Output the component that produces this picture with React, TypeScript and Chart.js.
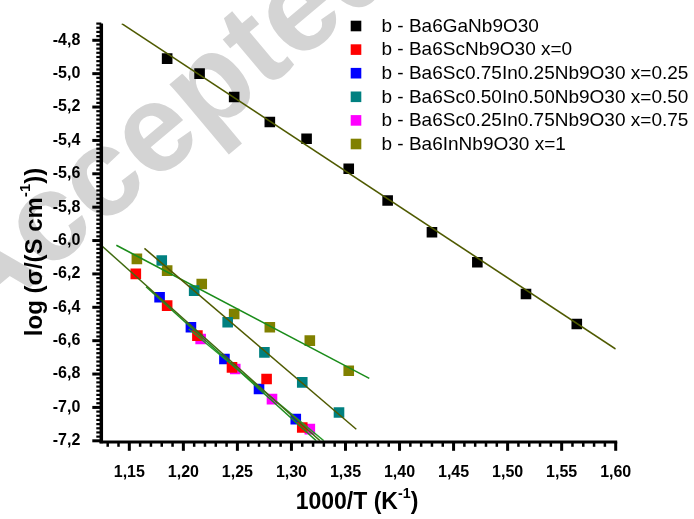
import React, { useEffect, useRef } from 'react';
import { Chart, registerables } from 'chart.js';
Chart.register(...registerables);

// ---- data ----
const seriesNames = [
  'b - Ba6GaNb9O30',
  'b - Ba6ScNb9O30 x=0',
  'b - Ba6Sc0.75In0.25Nb9O30 x=0.25',
  'b - Ba6Sc0.50In0.50Nb9O30 x=0.50',
  'b - Ba6Sc0.25In0.75Nb9O30 x=0.75',
  'b - Ba6InNb9O30 x=1',
];
const seriesColors = ['#000000', '#ff0000', '#0000ff', '#008080', '#ff00ff', '#808000'];
const fitColors = ['#4f5a00', '#3f6a10', '#1f8f1f', '#4f5a00', '#2a9a2a', '#1a8c1a'];

const gaX = [1.185, 1.215, 1.247, 1.280, 1.314, 1.353, 1.389, 1.430, 1.472, 1.517, 1.564];
const gaY = [-4.91, -5.00, -5.14, -5.29, -5.39, -5.57, -5.76, -5.95, -6.13, -6.32, -6.50];
const sc0X = [1.156, 1.185, 1.213, 1.245, 1.277, 1.310];
const sc0Y = [-6.20, -6.39, -6.57, -6.76, -6.83, -7.12];
const x25X = [1.178, 1.207, 1.238, 1.270, 1.304];
const x25Y = [-6.34, -6.52, -6.71, -6.89, -7.07];
const x50X = [1.180, 1.210, 1.241, 1.275, 1.310, 1.344];
const x50Y = [-6.12, -6.30, -6.49, -6.67, -6.85, -7.03];
const x75X = [1.216, 1.248, 1.282, 1.317];
const x75Y = [-6.59, -6.77, -6.95, -7.13];
const in1X = [1.157, 1.185, 1.217, 1.247, 1.280, 1.317, 1.353];
const in1Y = [-6.11, -6.18, -6.26, -6.44, -6.52, -6.60, -6.78];

// linear fit line end points
const fitGaX = [1.143, 1.600];
const fitGaY = [-4.70, -6.65];
const fitSc0X = [1.125, 1.3265];
const fitSc0Y = [-6.034, -7.20];
const fitX25X = [1.1655, 1.323];
const fitX25Y = [-6.277, -7.20];
const fitX50X = [1.164, 1.360];
const fitX50Y = [-6.047, -7.131];
const fitX75X = [1.205, 1.330];
const fitX75Y = [-6.53, -7.20];
const fitIn1X = [1.138, 1.372];
const fitIn1Y = [-6.028, -6.826];

const xTickValues = [1.15, 1.20, 1.25, 1.30, 1.35, 1.40, 1.45, 1.50, 1.55, 1.60];
const yTickValues = [-7.2, -7.0, -6.8, -6.6, -6.4, -6.2, -6.0, -5.8, -5.6, -5.4, -5.2, -5.0, -4.8];
const xMin = 1.125, xMax = 1.60, yMin = -7.2, yMax = -4.7;
const xMinorStep = 0.01, yMinorStep = 0.025;

const FONT = '"Liberation Sans", Arial, Helvetica, sans-serif';

const pts = (xs: number[], ys: number[]) => xs.map((x, i) => ({ x, y: ys[i] }));

const pointSets = [pts(gaX, gaY), pts(sc0X, sc0Y), pts(x25X, x25Y), pts(x50X, x50Y), pts(x75X, x75Y), pts(in1X, in1Y)];
const fitSets = [pts(fitGaX, fitGaY), pts(fitSc0X, fitSc0Y), pts(fitX25X, fitX25Y), pts(fitX50X, fitX50Y), pts(fitX75X, fitX75Y), pts(fitIn1X, fitIn1Y)];

function drawRich(ctx: CanvasRenderingContext2D, parts: { t: string; sup?: boolean }[], size: number) {
  const supSize = size * 0.62;
  let total = 0;
  for (const p of parts) {
    ctx.font = `bold ${p.sup ? supSize : size}px ${FONT}`;
    total += ctx.measureText(p.t).width;
  }
  let x = -total / 2;
  ctx.textBaseline = 'middle';
  ctx.textAlign = 'left';
  for (const p of parts) {
    ctx.font = `bold ${p.sup ? supSize : size}px ${FONT}`;
    ctx.fillText(p.t, x, p.sup ? -size * 0.38 : 0);
    x += ctx.measureText(p.t).width;
  }
}

const decorPlugin = {
  id: 'decor',
  beforeDraw(chart: any) {
    const ctx = chart.ctx as CanvasRenderingContext2D;
    ctx.save();
    ctx.fillStyle = '#d4d4d4';
    ctx.font = `bold 125px ${FONT}`;
    ctx.translate(170, 125);
    ctx.rotate((-40 * Math.PI) / 180);
    ctx.textAlign = 'center';
    ctx.textBaseline = 'middle';
    ctx.fillText('Accepted', 0, 0);
    ctx.restore();
  },
  afterDraw(chart: any) {
    const ctx = chart.ctx as CanvasRenderingContext2D;
    const { left, right, top, bottom } = chart.chartArea;
    const xs = chart.scales.x;
    const ys = chart.scales.y;
    ctx.save();
    ctx.fillStyle = '#000';
    ctx.strokeStyle = '#000';
    // axis lines
    ctx.lineWidth = 3.5;
    ctx.beginPath();
    ctx.moveTo(left - 1, top);
    ctx.lineTo(left - 1, bottom + 2.5);
    ctx.stroke();
    ctx.lineWidth = 2.8;
    ctx.beginPath();
    ctx.moveTo(left - 2.7, bottom + 1.2);
    ctx.lineTo(right + 1.5, bottom + 1.2);
    ctx.stroke();
    // x ticks
    const firstX = Math.ceil(xMin / xMinorStep - 1e-9);
    for (let i = firstX; i * xMinorStep <= xMax + 1e-9; i++) {
      const v = i * xMinorStep;
      const px = xs.getPixelForValue(v);
      const major = i % 5 === 0;
      ctx.lineWidth = major ? 3 : 2.5;
      ctx.beginPath();
      ctx.moveTo(px, bottom + 1);
      ctx.lineTo(px, bottom + (major ? 10 : 6));
      ctx.stroke();
    }
    // y ticks
    const firstY = Math.ceil(yMin / yMinorStep - 1e-9);
    for (let i = firstY; i * yMinorStep <= yMax + 1e-9; i++) {
      const v = i * yMinorStep;
      const py = ys.getPixelForValue(v);
      const major = i % 8 === 0;
      ctx.lineWidth = major ? 3 : 2.2;
      ctx.beginPath();
      ctx.moveTo(left - 1, py);
      ctx.lineTo(left - (major ? 10 : 6), py);
      ctx.stroke();
    }
    // axis titles
    ctx.save();
    ctx.translate(357, 503);
    drawRich(ctx, [{ t: '1000/T (K' }, { t: '-1', sup: true }, { t: ')' }], 23);
    ctx.restore();
    ctx.save();
    ctx.translate(35, 252);
    ctx.rotate(-Math.PI / 2);
    drawRich(ctx, [{ t: 'log (σ/(S cm' }, { t: '-1', sup: true }, { t: '))' }], 24);
    ctx.restore();
    // legend
    ctx.font = `19px ${FONT}`;
    ctx.textBaseline = 'middle';
    ctx.textAlign = 'left';
    seriesNames.forEach((name, i) => {
      const cy = 26 + i * 23.6;
      ctx.fillStyle = seriesColors[i];
      ctx.fillRect(356 - 5.3, cy - 5.3, 10.6, 10.6);
      ctx.fillStyle = '#000';
      ctx.fillText(name, 381.5, cy + 0.5);
    });
    ctx.restore();
  },
};

export default function App() {
  const ref = useRef<HTMLCanvasElement>(null);
  useEffect(() => {
    if (!ref.current) return;
    const datasets: any[] = [];
    fitSets.forEach((d, i) => {
      datasets.push({
        type: 'scatter',
        label: 'fit ' + seriesNames[i],
        data: d,
        showLine: true,
        borderColor: fitColors[i],
        borderWidth: 1.5,
        pointRadius: 0,
        order: 0,
      });
    });
    pointSets.forEach((d, i) => {
      datasets.push({
        type: 'scatter',
        label: seriesNames[i],
        data: d,
        pointStyle: 'rect',
        pointRadius: 7.5,
        backgroundColor: seriesColors[i],
        borderColor: seriesColors[i],
        borderWidth: 0,
        order: 1,
      });
    });
    const chart = new Chart(ref.current, {
      type: 'scatter',
      data: { datasets },
      options: {
        animation: false,
        responsive: false,
        devicePixelRatio: 1,
        layout: { padding: { top: 23.3, right: 78.3, left: 0, bottom: 0 } },
        plugins: { legend: { display: false }, tooltip: { enabled: false } },
        scales: {
          x: {
            type: 'linear',
            min: xMin,
            max: xMax,
            grid: { display: false },
            border: { display: false },
            afterFit: (s: any) => { s.height = 78.2; },
            afterBuildTicks: (s: any) => { s.ticks = xTickValues.map((v) => ({ value: v })); },
            ticks: {
              autoSkip: false,
              maxRotation: 0,
              padding: 14,
              color: '#000',
              font: { family: FONT, size: 16, weight: 'bold' },
              callback: (v: any) => Number(v).toFixed(2).replace('.', ','),
            },
          },
          y: {
            type: 'linear',
            min: yMin,
            max: yMax,
            grid: { display: false },
            border: { display: false },
            afterFit: (s: any) => { s.width = 102.3; },
            afterBuildTicks: (s: any) => { s.ticks = yTickValues.map((v) => ({ value: v })); },
            ticks: {
              autoSkip: false,
              padding: 14,
              color: '#000',
              font: { family: FONT, size: 16, weight: 'bold' },
              callback: (v: any) => Number(v).toFixed(1).replace('.', ','),
            },
          },
        },
      },
      plugins: [decorPlugin],
    } as any);
    return () => chart.destroy();
  }, []);
  return (
    <div style={{ position: 'fixed', left: 0, top: 0, width: 694, height: 519, background: '#fff' }}>
      <canvas ref={ref} width={694} height={519} />
    </div>
  );
}
